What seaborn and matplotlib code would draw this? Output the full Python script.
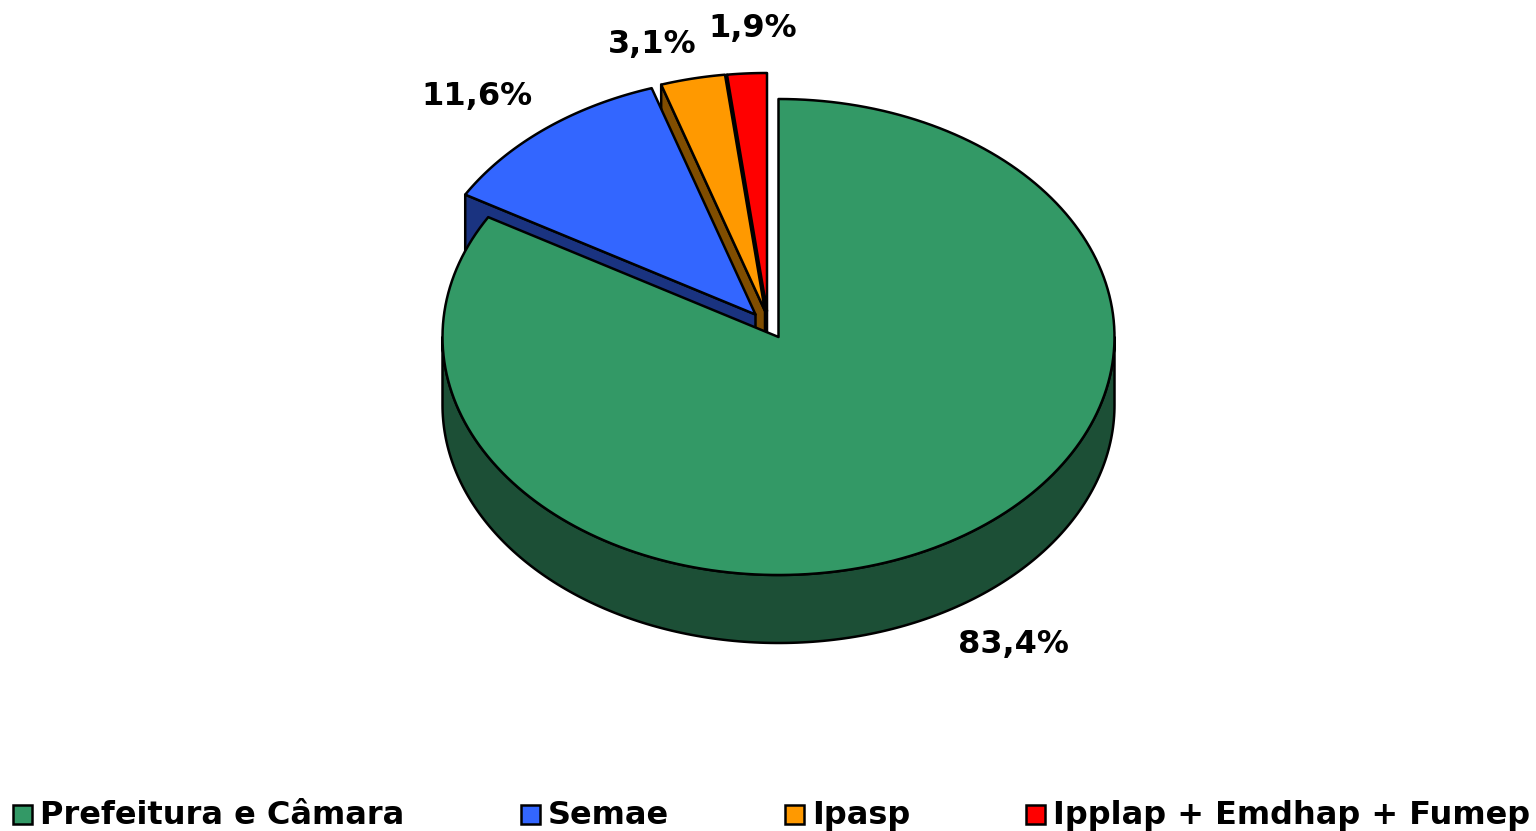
import numpy as np
import matplotlib
matplotlib.use("Agg")
import matplotlib.pyplot as plt
from matplotlib.patches import Patch
import seaborn as sns

categories = ["Prefeitura e Câmara", "Semae", "Ipasp", "Ipplap + Emdhap + Fumep"]
shares = [83.4, 11.6, 3.1, 1.9]
top_colors = ["#339966", "#3366FF", "#FF9900", "#FF0000"]
side_colors = ["#1C4F36", "#1A3380", "#804D00", "#800000"]

# layout styling, in pixels
CX, CY, RX, RY, DEPTH = 778.5, 337.0, 336.0, 238.0, 68.0
explode = [(0, 0), (-23, -22.5), (-13.5, -26), (-11.5, -26)]
label_pos = [(1013, 645), (477, 96), (652, 44), (753, 29)]
LW = 1.8
FS = 23.0

sns.set_theme(style="white")
plt.rcParams["font.family"] = ["DejaVu Sans"]
palette = sns.color_palette(top_colors)

fig = plt.figure(figsize=(15.36, 8.31), dpi=100)
ax = fig.add_axes([0, 0, 1, 1])
ax.set_xlim(0, 1536)
ax.set_ylim(831, 0)
ax.axis("off")


def rim(t0, t1, dx=0.0, dy=0.0, n=200):
    t = np.radians(np.linspace(t0, t1, n))
    return CX + dx + RX * np.sin(t), CY + dy - RY * np.cos(t)


total = sum(shares)
edges = np.cumsum([0] + shares) / total * 360.0
spans = list(zip(edges[:-1], edges[1:]))
kw = dict(edgecolor="black", linewidth=LW, joinstyle="round")

# exploded slices, back to front: right-most first, then towards the left
for i in [3, 2, 1]:
    t0, t1 = spans[i]
    dx, dy = explode[i]
    ox, oy = rim(t0, t0, dx, dy, 1)
    ax_, ay_ = CX + dx, CY + dy
    ax.fill([ax_, ox[0], ox[0], ax_], [ay_, oy[0], oy[0] + DEPTH, ay_ + DEPTH],
            facecolor=side_colors[i], zorder=i * -2 + 10, **kw)
    x, y = rim(t0, t1, dx, dy)
    ax.fill(np.r_[ax_, x], np.r_[ay_, y], facecolor=palette[i],
            zorder=i * -2 + 11, **kw)

# main slice: outer wall, then top
t0, t1 = spans[0]
x, y = rim(90, 270)
ax.fill(np.r_[x, x[::-1]], np.r_[y, y[::-1] + DEPTH],
        facecolor=side_colors[0], zorder=20, **kw)
x, y = rim(t0, t1)
ax.fill(np.r_[CX, x], np.r_[CY, y], facecolor=palette[0], zorder=21, **kw)

for value, (lx, ly) in zip(shares, label_pos):
    ax.text(lx, ly, f"{value:.1f}%".replace(".", ","), ha="center", va="center",
            fontsize=FS, fontweight="bold", color="black", zorder=30)

handles = [Patch(facecolor=c, edgecolor="black", linewidth=LW) for c in palette]
leg = fig.legend(handles, categories, loc="lower left",
                 bbox_to_anchor=(10 / 1536, -3.5 / 831),
                 ncol=4, frameon=False, borderaxespad=0, borderpad=0.1,
                 prop=dict(size=FS, weight="bold"), labelcolor="black",
                 handlelength=0.6, handleheight=0.57,
                 handletextpad=0.25, columnspacing=3.63)
for p in leg.get_patches():
    p.set_y(p.get_y() - 1.0)

fig.savefig("out.png", dpi=100, facecolor="white")
